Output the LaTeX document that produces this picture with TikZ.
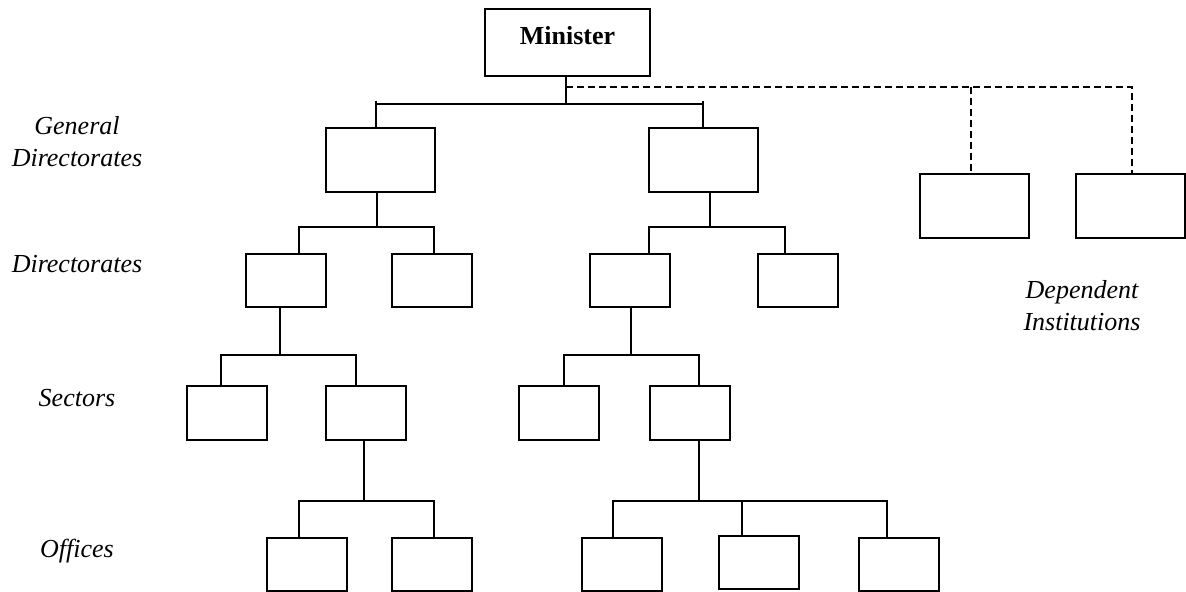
\documentclass[tikz,border=0pt]{standalone}
\usepackage{fontspec}
\setmainfont{Liberation Serif}
\begin{document}
\begin{tikzpicture}[
                x=0.5pt, y=-0.5pt,
                line width=1pt,
                box/.style={draw, rectangle, inner sep=0pt, minimum width=40pt, minimum height=26.5pt},
                wide/.style={box, minimum width=54.5pt, minimum height=32pt},
                lvl/.style={font=\fontsize{13}{16}\selectfont\itshape, align=center, inner sep=0pt},
                dep/.style={dash pattern=on 3.5pt off 2pt}
            ]

            \useasboundingbox (0,0) rectangle (1186,592);

            % Minister
            \node[box, minimum width=82.5pt, minimum height=33.5pt, text height=9pt, text depth=6.5pt,
                  font=\fontsize{13}{16}\selectfont\bfseries] (min) at (567.5,42.5) {Minister};

            % General Directorates
            \node[wide] (gd1) at (380.5,160) {};
            \node[wide] (gd2) at (703.5,160) {};

            % Dependent Institutions
            \node[wide] (di1) at (974.5,206) {};
            \node[wide] (di2) at (1130.5,206) {};

            % Directorates
            \node[box] (d1) at (286,280.5) {};
            \node[box] (d2) at (431.5,280.5) {};
            \node[box] (d3) at (629.5,280.5) {};
            \node[box] (d4) at (797.5,280.5) {};

            % Sectors
            \node[box] (s1) at (226.5,413) {};
            \node[box] (s2) at (366,413) {};
            \node[box] (s3) at (559,413) {};
            \node[box] (s4) at (689.5,413) {};

            % Offices
            \node[box] (o1) at (307,564) {};
            \node[box] (o2) at (431.5,564) {};
            \node[box] (o3) at (621.5,564) {};
            \node[box] (o4) at (759,562.5) {};
            \node[box] (o5) at (899,564) {};

            % Level labels
            \node[lvl] (lgd) at (77,142) {General\\Directorates};
            \node[lvl, anchor=base] (ld) at (77,273) {Directorates};
            \node[lvl, anchor=base] (ls) at (77,407) {Sectors};
            \node[lvl, anchor=base] (lo) at (77,557) {Offices};
            \node[lvl] (ldi) at (1082,306) {Dependent\\Institutions};

            % Minister to general directorates
            \coordinate (g0) at (566,104);
            \coordinate (g1) at (376,104);
            \coordinate (g2) at (703,104);
            \draw (min.south -| g0) -- (g0);
            \draw (g1) -- (g2);
            \draw ([yshift=1.5pt]g1) -- (g1 |- gd1.north);
            \draw ([yshift=1.5pt]g2) -- (g2 |- gd2.north);

            % Minister to dependent institutions
            \coordinate (j0) at (566,87);
            \coordinate (j1) at (971,87);
            \coordinate (j2) at (1132,87);
            \draw[dep] (j0) -- (j2) -- (j2 |- di2.north);
            \draw[dep] (j1) -- (j1 |- di1.north);

            % General directorates to directorates
            \coordinate (h1) at (377,227);
            \coordinate (h1l) at (299,227);
            \coordinate (h1r) at (434,227);
            \draw (gd1.south -| h1) -- (h1);
            \draw (h1l |- d1.north) -- (h1l) -- (h1r) -- (h1r |- d2.north);
            \coordinate (h2) at (710,227);
            \coordinate (h2l) at (649,227);
            \coordinate (h2r) at (785,227);
            \draw (gd2.south -| h2) -- (h2);
            \draw (h2l |- d3.north) -- (h2l) -- (h2r) -- (h2r |- d4.north);

            % Directorates to sectors
            \coordinate (k1) at (280,355);
            \coordinate (k1l) at (221,355);
            \coordinate (k1r) at (356,355);
            \draw (d1.south -| k1) -- (k1);
            \draw (k1l |- s1.north) -- (k1l) -- (k1r) -- (k1r |- s2.north);
            \coordinate (k2) at (631,355);
            \coordinate (k2l) at (564,355);
            \coordinate (k2r) at (699,355);
            \draw (d3.south -| k2) -- (k2);
            \draw (k2l |- s3.north) -- (k2l) -- (k2r) -- (k2r |- s4.north);

            % Sectors to offices
            \coordinate (m1) at (364,501);
            \coordinate (m1l) at (299,501);
            \coordinate (m1r) at (434,501);
            \draw (s2.south -| m1) -- (m1);
            \draw (m1l |- o1.north) -- (m1l) -- (m1r) -- (m1r |- o2.north);
            \coordinate (m2) at (699,501);
            \coordinate (m2l) at (613,501);
            \coordinate (m2c) at (742,501);
            \coordinate (m2r) at (887,501);
            \draw (s4.south -| m2) -- (m2);
            \draw (m2l |- o3.north) -- (m2l) -- (m2r) -- (m2r |- o5.north);
            \draw (m2c) -- (m2c |- o4.north);

\end{tikzpicture}
\end{document}
